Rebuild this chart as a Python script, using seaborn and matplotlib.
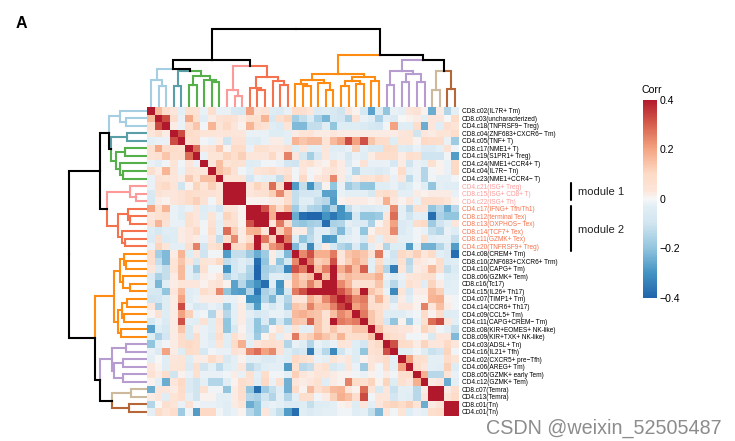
import numpy as np
import pandas as pd
import matplotlib
matplotlib.use("Agg")
import matplotlib.pyplot as plt
import seaborn as sb
from matplotlib.colors import LinearSegmentedColormap

labels = [
    "CD8.c02(IL7R+ Tm)", "CD8.c03(uncharacterized)", "CD4.c18(TNFRSF9\u2212 Treg)",
    "CD8.c04(ZNF683+CXCR6\u2212 Tm)", "CD4.c05(TNF+ T)", "CD8.c17(NME1+ T)",
    "CD4.c19(S1PR1+ Treg)", "CD4.c24(NME1+CCR4+ T)", "CD4.c04(IL7R\u2212 Tn)",
    "CD4.c23(NME1+CCR4\u2212 T)", "CD4.c21(ISG+ Treg)", "CD8.c15(ISG+ CD8+ T)",
    "CD4.c22(ISG+ Th)", "CD4.c17(IFNG+ Tfh/Th1)", "CD8.c12(terminal Tex)",
    "CD8.c13(OXPHOS\u2212 Tex)", "CD8.c14(TCF7+ Tex)", "CD8.c11(GZMK+ Tex)",
    "CD4.c20(TNFRSF9+ Treg)", "CD4.c08(CREM+ Tm)", "CD8.c10(ZNF683+CXCR6+ Trm)",
    "CD4.c10(CAPG+ Tm)", "CD8.c06(GZMK+ Tem)", "CD8.c16(Tc17)", "CD4.c15(IL26+ Th17)",
    "CD4.c07(TIMP1+ Tm)", "CD4.c14(CCR6+ Th17)", "CD4.c09(CCL5+ Tm)",
    "CD4.c11(CAPG+CREM\u2212 Tm)", "CD8.c08(KIR+EOMES+ NK-like)", "CD8.c09(KIR+TXK+ NK-like)",
    "CD4.c03(ADSL+ Tn)", "CD4.c16(IL21+ Tfh)", "CD4.c02(CXCR5+ pre\u2212Tfh)",
    "CD4.c06(AREG+ Tm)", "CD8.c05(GZMK+ early Tem)", "CD4.c12(GZMK+ Tem)",
    "CD8.c07(Temra)", "CD4.c13(Temra)", "CD8.c01(Tn)", "CD4.c01(Tn)",
]

# upper triangle of the correlation matrix, x100, each row starts at the diagonal
upper = [
    [40,16,8,3,-3,6,5,-2,7,-2,-2,-7,-8,20,3,5,-5,-6,-2,8,7,3,-6,-5,-7,-10,3,1,-8,-27,-5,-20,-2,-3,3,5,1,-25,2,-15,-3],
    [40,33,8,-2,19,6,-4,2,5,7,5,2,6,6,17,-8,7,11,-17,-12,-6,-16,-23,-8,-9,-16,5,-2,-4,-16,-3,-6,0,1,2,-3,3,3,0,9],
    [40,2,-2,8,14,-1,17,4,10,3,1,17,8,5,-4,-6,4,-22,-22,-12,-12,-4,-20,-5,-5,-5,-6,-8,-9,-1,20,-4,-4,8,-25,3,-4,7,4],
    [40,33,9,7,4,4,3,4,3,3,-2,-2,-2,-5,-5,-3,2,4,4,2,2,3,2,2,2,2,2,2,2,2,3,4,-10,3,2,4,4,8],
    [40,7,8,-1,-2,2,-10,5,5,-4,-5,-2,2,2,-3,17,14,16,16,4,16,20,33,20,32,14,9,8,-5,4,4,1,10,9,8,-2,-18],
    [40,28,3,5,13,1,9,9,-2,6,6,3,3,7,-5,3,-3,-3,3,-4,-4,-2,12,-3,-7,-7,10,9,-5,-6,-2,-6,-6,-3,5,-1],
    [40,-2,4,4,11,7,12,3,3,3,10,2,25,3,-8,-17,-8,3,-3,-2,-8,-2,-4,2,8,8,8,2,7,6,-10,-10,-10,-1,-28],
    [40,3,15,4,6,5,-5,-4,-1,-1,-2,-9,-10,4,6,2,1,8,2,-6,-1,5,-2,-2,-2,-8,2,-10,-2,-3,6,1,-2,10],
    [40,15,12,5,-1,-3,4,5,8,3,5,-1,3,-1,1,3,4,2,-2,-15,-4,-4,-6,-4,-1,9,-3,-2,-15,-1,1,-2,10],
    [40,4,4,4,-9,-2,-3,-3,-12,9,-1,10,-1,3,5,24,2,-4,2,5,4,8,4,-2,3,-13,-2,-15,-1,-3,-3,-1],
    [40,40,40,3,11,6,28,8,40,-28,-12,-30,-14,1,-20,-2,-18,-14,-20,-20,-4,-4,-2,-7,-5,-1,-4,-20,-3,-4,-4],
    [40,40,3,5,6,12,24,10,-12,-9,-9,-8,-27,-27,-2,-3,-3,-3,-7,6,9,5,-3,-3,2,1,2,2,2,-2],
    [40,1,1,1,2,2,9,-12,-4,-4,-12,-14,-28,1,2,2,2,1,2,18,3,1,3,-2,8,8,7,4,1],
    [40,40,32,17,8,16,-18,-8,-15,-16,-25,-15,-30,-12,-3,-6,-6,-4,-3,24,-3,-14,6,5,-20,-14,-25,-14],
    [40,40,18,40,40,-25,-38,-40,-40,-30,-36,-30,-28,-8,-20,-20,-18,3,28,-3,-10,-3,-4,-38,-16,-20,-20],
    [40,3,26,10,-18,-20,-17,-16,-38,-16,-15,-3,-6,-6,-16,1,7,20,-6,-4,8,10,-18,-10,-4,3],
    [40,12,22,2,2,-15,-4,-4,-12,-22,-8,-2,-20,1,6,7,24,-6,-3,-1,-2,-12,-15,-2,-5],
    [40,26,-5,-20,-13,-4,-30,-28,-5,-3,-2,-8,4,-3,5,5,-3,-3,-1,6,-4,-3,-3,-12],
    [40,-22,-8,-32,-7,2,-8,-15,-18,-6,-18,-3,2,-15,-5,-5,-28,-3,-24,-24,-15,-6,-28],
    [40,24,32,18,18,26,3,14,16,14,5,26,-2,-10,10,6,12,3,9,-3,-6,-38],
    [40,26,12,14,32,3,12,18,13,-3,9,-4,-8,6,-14,3,2,1,8,-5,-4],
    [40,15,25,40,18,25,15,30,-3,12,-15,-35,4,-12,2,3,16,7,-12,-6],
    [40,15,40,13,16,14,14,14,18,-2,-5,-2,3,4,6,7,-1,-5,-4],
    [40,40,24,17,5,6,6,14,-5,-14,-3,6,3,-4,11,2,-4,-3],
    [40,32,25,15,40,14,10,-2,-32,4,-8,2,2,16,12,-3,-3],
    [40,34,24,26,7,17,4,-10,2,-4,1,1,17,18,1,-1],
    [40,20,24,8,7,3,-2,3,3,1,25,3,15,2,-1],
    [40,26,14,8,-4,-5,-5,-2,-1,9,1,8,-5,-4],
    [40,14,9,-9,-20,1,-18,-2,6,28,33,3,-3],
    [40,14,5,5,3,3,1,11,4,-1,-3,-12],
    [40,10,7,5,-1,-1,1,-7,3,3,-22],
    [40,32,9,8,2,11,3,3,10,3],
    [40,-3,-3,-1,-5,-11,-9,11,-1],
    [40,20,7,6,-3,-3,9,4],
    [40,8,3,-3,-4,12,-5],
    [40,18,-14,-14,4,-2],
    [40,2,3,-25,-3],
    [40,40,2,7],
    [40,4,9],
    [40,40],
    [40],
]

# dendrogram merges, leaves are 0-40 and merge number k gets id 41+k
merge_left = [1,0,3,5,8,7,44,43,42,11,10,14,13,17,16,53,51,49,20,19,23,22,60,25,27,64,29,66,63,31,33,35,71,70,37,39,75,74,69,58]
merge_right = [2,41,4,6,9,45,46,47,48,12,50,15,52,18,54,55,56,57,21,59,24,61,62,26,28,65,30,67,68,32,34,36,72,73,38,40,76,77,78,79]
merge_height = [21.3,27.3,20.7,22.3,24.7,27.3,31.3,36.3,38,11.3,17,17,19.3,22.3,25.7,29.7,40.7,47.3,
                21.3,23.3,17.3,24,27.3,20.7,23,25.7,26.3,29.7,33.3,21.7,24.7,24.7,33.3,35.7,16.7,18.3,35.7,47.3,52.3,78.3]

cluster_sizes = [3,2,5,3,6,12,6,2,2]
cluster_colors = ["#a6cee3","#5a9ea8","#55b04a","#fb9a99","#f4724d","#ff8c12","#b79ccf","#cdb99c","#b5673a"]

corr_ticks = [-0.4,-0.2,0,0.2,0.4]
corr_ticklabels = ["\u22120.4","\u22120.2","0","0.2","0.4"]

W, H = 735, 441


def px_axes(fig, x0, y0, x1, y1):
    # axes from pixel box, y counted from the top of the image
    return fig.add_axes([x0/W, 1-y1/H, (x1-x0)/W, (y1-y0)/H])


def tree_segments():
    leaf_cols = []
    for n, c in zip(cluster_sizes, cluster_colors):
        leaf_cols += [c]*n
    pos = {i: i+0.5 for i in range(41)}
    hgt = {i: 0 for i in range(41)}
    col = {i: leaf_cols[i] for i in range(41)}
    segs = []
    for k in range(len(merge_left)):
        l, r, h = merge_left[k], merge_right[k], merge_height[k]
        node = 41+k
        pos[node] = (pos[l]+pos[r])/2
        hgt[node] = h
        col[node] = col[l] if col[l] == col[r] else "black"
        for child in (l, r):
            segs.append(([pos[child], pos[child], pos[node]], [hgt[child], h, h], col[child]))
    return segs


matrix = np.zeros((41, 41))
for i, row in enumerate(upper):
    matrix[i, i:] = np.array(row)/100
matrix = matrix+np.triu(matrix, 1).T
df_corr = pd.DataFrame(matrix, index=labels, columns=labels)

sb.set_theme(style="white")
plt.rcParams["font.family"] = ["Liberation Sans", "DejaVu Sans"]

fig = plt.figure(figsize=(W/100, H/100), dpi=100)

# tinted a bit sooner around zero than a plain RdBu ramp
cmap = LinearSegmentedColormap.from_list(
    "corr", [(0, "#2166ac"), (0.125, "#4393c3"), (0.25, "#92c5de"), (0.375, "#d1e5f0"), (0.46, "#e2eef5"),
             (0.5, "#f7f7f7"), (0.54, "#fce5d9"), (0.625, "#fddbc7"), (0.75, "#f4a582"), (0.875, "#d6604d"), (1, "#b2182b")])

ax = px_axes(fig, 147.3, 107, 458.7, 415.7)
cax = px_axes(fig, 642.5, 99.5, 657, 297.7)
sb.heatmap(df_corr, ax=ax, cbar_ax=cax, cmap=cmap, vmin=-0.4, vmax=0.4,
           xticklabels=False, yticklabels=True, cbar_kws={"ticks": corr_ticks})

ax.yaxis.tick_right()
ax.tick_params(axis="y", length=0, pad=2.2, labelsize=4.7, labelrotation=0)
for i, t in enumerate(ax.get_yticklabels()):
    t.set_color("black")
    if 10 <= i <= 12:
        t.set_color("#fb9a99")
    if 13 <= i <= 18:
        t.set_color("#f4724d")

cax.set_yticklabels(corr_ticklabels)
cax.tick_params(axis="y", which="major", direction="in", color="white", width=1, length=3,
                left=True, right=True, labelsize=7.6, pad=2, labelcolor="black")
ax.collections[0].colorbar.outline.set_visible(False)
fig.text(642/W, 1-90/H, "Corr", fontsize=7.6, ha="left", va="center", color="black")

# dendrograms on both sides
ax_top = px_axes(fig, 147.3, 27, 458.7, 107)
ax_top.set_xlim(0, 41)
ax_top.set_ylim(0, 80)
ax_left = px_axes(fig, 67.3, 107, 147.3, 415.7)
ax_left.set_ylim(41, 0)
ax_left.set_xlim(80, 0)
for xs, ys, c in tree_segments():
    ax_top.plot(xs, ys, color=c, lw=1.5, solid_capstyle="projecting", solid_joinstyle="miter")
    ax_left.plot(ys, xs, color=c, lw=1.5, solid_capstyle="projecting", solid_joinstyle="miter")
for a in (ax_top, ax_left):
    a.axis("off")

# module marks
ax_note = fig.add_axes([0, 0, 1, 1], facecolor="none")
ax_note.set_xlim(0, W)
ax_note.set_ylim(H, 0)
ax_note.axis("off")
ax_note.plot([571, 571], [183, 200], color="black", lw=1.5)
ax_note.plot([571, 571], [206, 250.7], color="black", lw=1.5)
ax_note.text(577.7, 191.7, "module 1", fontsize=8, va="center", color="#222222")
ax_note.text(577.7, 230, "module 2", fontsize=8, va="center", color="#222222")

fig.text(16/W, 1-24/H, "A", fontsize=11.5, fontweight="bold", va="center", color="black")
fig.text(722/W, 1-428/H, "CSDN @weixin_52505487", fontsize=14.2, ha="right", va="center", color="#8c8c8c")

fig.savefig("out.png", dpi=100)
